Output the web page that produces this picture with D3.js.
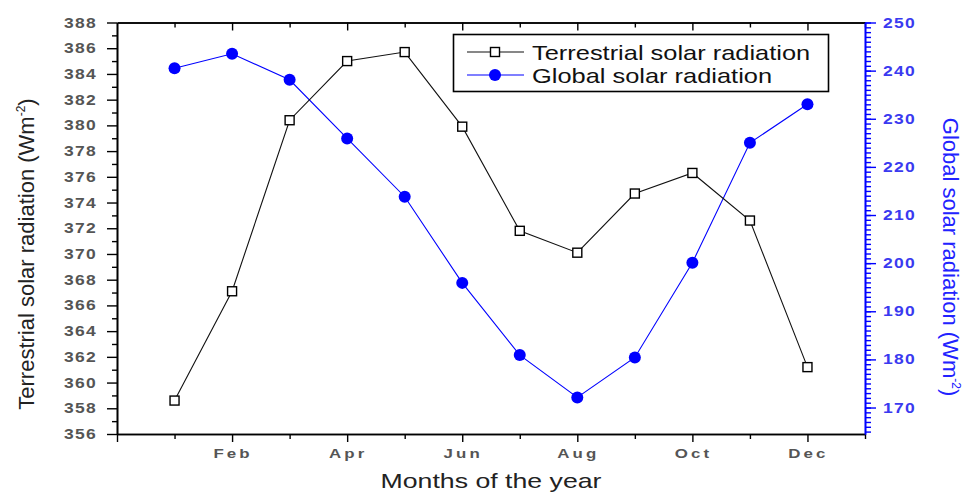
<!DOCTYPE html>
<html>
<head>
<meta charset="utf-8">
<script src="https://cdn.jsdelivr.net/npm/d3@7"></script>
<style>
  html, body { margin: 0; padding: 0; background: #fff; }
  svg { display: block; font-family: Arial, "Liberation Sans", sans-serif; }
</style>
</head>
<body>
<svg id="chart" width="966" height="494"></svg>
<script>
// Monthly solar radiation: terrestrial (left axis) and global (right axis)
const months = ["Jan", "Feb", "Mar", "Apr", "May", "Jun", "Jul", "Aug", "Sep", "Oct", "Nov", "Dec"];
const terrestrial = [358.6, 367.1, 380.4, 385.0, 385.7, 379.9, 371.8, 370.1, 374.7, 376.3, 372.6, 361.2];
const globalRad = [240.5, 243.5, 238.1, 225.9, 213.8, 195.9, 180.9, 172.1, 180.4, 200.1, 225.0, 233.0];
const leftTicks = [356, 358, 360, 362, 364, 366, 368, 370, 372, 374, 376, 378, 380, 382, 384, 386, 388];
const rightTicks = [170, 180, 190, 200, 210, 220, 230, 240, 250];
const seriesNames = ["Terrestrial solar radiation", "Global solar radiation"];

const svg = d3.select("#chart");
const L = 117, R = 865, T = 22.5, B = 434;
const BLUE = "#0000ff";
const SX = 1.25; // horizontal stretch applied to the lettering

const x = d3.scaleLinear().domain([0, 13]).range([L, R]);
const yL = d3.scaleLinear().domain([356, 388]).range([B, T]);
const yR = d3.scaleLinear().domain([164.5, 250]).range([B, T]);

// --- axes ---
function styleAxis(g, color) {
  g.select(".domain").attr("stroke", color).attr("stroke-width", 1.6);
  g.selectAll(".tick line").attr("stroke", color).attr("stroke-width", 1.4);
  g.selectAll(".tick text").remove();
}

// bottom: major every 2 months, minor on odd months
const evenM = d3.range(0, 14, 2), oddM = d3.range(1, 14, 2);
svg.append("g").attr("transform", `translate(0,${B})`)
  .call(d3.axisBottom(x).tickValues(oddM).tickSize(5).tickSizeOuter(0))
  .call(g => styleAxis(g, "#000"));
svg.append("g").attr("transform", `translate(0,${B})`)
  .call(d3.axisBottom(x).tickValues(evenM).tickSize(8).tickSizeOuter(0))
  .call(g => styleAxis(g, "#000"));
// top mirror, ticks inward
svg.append("g").attr("transform", `translate(0,${T})`)
  .call(d3.axisTop(x).tickValues(oddM).tickSize(-5).tickSizeOuter(0))
  .call(g => styleAxis(g, "#000"));
svg.append("g").attr("transform", `translate(0,${T})`)
  .call(d3.axisTop(x).tickValues(evenM.filter(v => v > 0)).tickSize(-8).tickSizeOuter(0))
  .call(g => styleAxis(g, "#000"));

// left axis
svg.append("g").attr("transform", `translate(${L},0)`)
  .call(d3.axisLeft(yL).tickValues(d3.range(357, 388, 2)).tickSize(5).tickSizeOuter(0))
  .call(g => styleAxis(g, "#000"));
svg.append("g").attr("transform", `translate(${L},0)`)
  .call(d3.axisLeft(yL).tickValues(leftTicks).tickSize(10).tickSizeOuter(0))
  .call(g => styleAxis(g, "#000"));

// right axis
svg.append("g").attr("transform", `translate(${R},0)`)
  .call(d3.axisRight(yR).tickValues(d3.range(165, 251, 1)).tickSize(6).tickSizeOuter(0))
  .call(g => styleAxis(g, BLUE));
svg.append("g").attr("transform", `translate(${R},0)`)
  .call(d3.axisRight(yR).tickValues(rightTicks).tickSize(11).tickSizeOuter(0))
  .call(g => styleAxis(g, BLUE));

// --- stretched text helper ---
function label(px, py, str, opts) {
  const g = svg.append("g")
    .attr("transform", `translate(${px},${py}) scale(${opts.sx || SX},1)` + (opts.rot ? ` rotate(${opts.rot})` : ""));
  const t = g.append("text")
    .attr("text-anchor", opts.anchor || "start")
    .attr("font-size", opts.size)
    .attr("font-weight", opts.weight || "normal")
    .attr("fill", opts.fill || "#000")
    .attr("letter-spacing", opts.ls || 0)
    .text(str);
  return t;
}

// tick labels
leftTicks.forEach(v => label(97, yL(v) + 5, String(v), { anchor: "end", size: 14, weight: "bold", fill: "#555", ls: 1 }));
rightTicks.forEach(v => label(883, yR(v) + 5, String(v), { anchor: "start", size: 14, weight: "bold", fill: "#3a3af0", ls: 1 }));
months.forEach((m, i) => {
  if ((i + 1) % 2 === 0) label(x(i + 1) + 1, 458, m, { anchor: "middle", size: 13.5, weight: "bold", fill: "#555", ls: 2.5 });
});

// axis titles
label(491, 488, "Months of the year", { anchor: "middle", size: 21, fill: "#222", sx: 1.27 });

function titleWithUnit(px, py, main, rot, color) {
  const t = label(px, py, "", { anchor: "middle", size: 22, fill: color, sx: 1.0, rot: rot });
  t.append("tspan").text(main + " (Wm");
  t.append("tspan").attr("font-size", 12).attr("dy", -9).text("-2");
  t.append("tspan").attr("dy", 9).text(")");
  return t;
}
titleWithUnit(34, 254, "Terrestrial solar radiation", -90, "#222");
titleWithUnit(943, 257, "Global solar radiation", 90, "#2222ff");

// --- series ---
const lineL = d3.line().x((d, i) => x(i + 1)).y(d => yL(d));
const lineR = d3.line().x((d, i) => x(i + 1)).y(d => yR(d));

svg.append("path").datum(globalRad).attr("d", lineR)
  .attr("fill", "none").attr("stroke", BLUE).attr("stroke-width", 1.1);
svg.append("path").datum(terrestrial).attr("d", lineL)
  .attr("fill", "none").attr("stroke", "#111").attr("stroke-width", 1.1);

svg.append("g").selectAll("circle").data(globalRad).join("circle")
  .attr("cx", (d, i) => x(i + 1)).attr("cy", d => yR(d)).attr("r", 6)
  .attr("fill", BLUE);

const S = 9;
svg.append("g").selectAll("rect").data(terrestrial).join("rect")
  .attr("x", (d, i) => x(i + 1) - S / 2).attr("y", d => yL(d) - S / 2)
  .attr("width", S).attr("height", S)
  .attr("fill", "#fff").attr("stroke", "#000").attr("stroke-width", 1.4);

// --- legend ---
const lg = svg.append("g");
lg.append("rect").attr("x", 453.5).attr("y", 34.5).attr("width", 375).attr("height", 57)
  .attr("fill", "#fff").attr("stroke", "#000").attr("stroke-width", 1.6);
const rows = [52, 75];
lg.append("line").attr("x1", 467).attr("x2", 524).attr("y1", rows[0]).attr("y2", rows[0]).attr("stroke", "#111").attr("stroke-width", 1.1);
lg.append("rect").attr("x", 495 - S / 2).attr("y", rows[0] - S / 2).attr("width", S).attr("height", S)
  .attr("fill", "#fff").attr("stroke", "#000").attr("stroke-width", 1.4);
lg.append("line").attr("x1", 467).attr("x2", 524).attr("y1", rows[1]).attr("y2", rows[1]).attr("stroke", BLUE).attr("stroke-width", 1.1);
lg.append("circle").attr("cx", 495).attr("cy", rows[1]).attr("r", 6).attr("fill", BLUE);
seriesNames.forEach((n, i) => label(532, rows[i] + 7.5, n, { size: 20.5, fill: "#111", sx: 1.24 }));
</script>
</body>
</html>
